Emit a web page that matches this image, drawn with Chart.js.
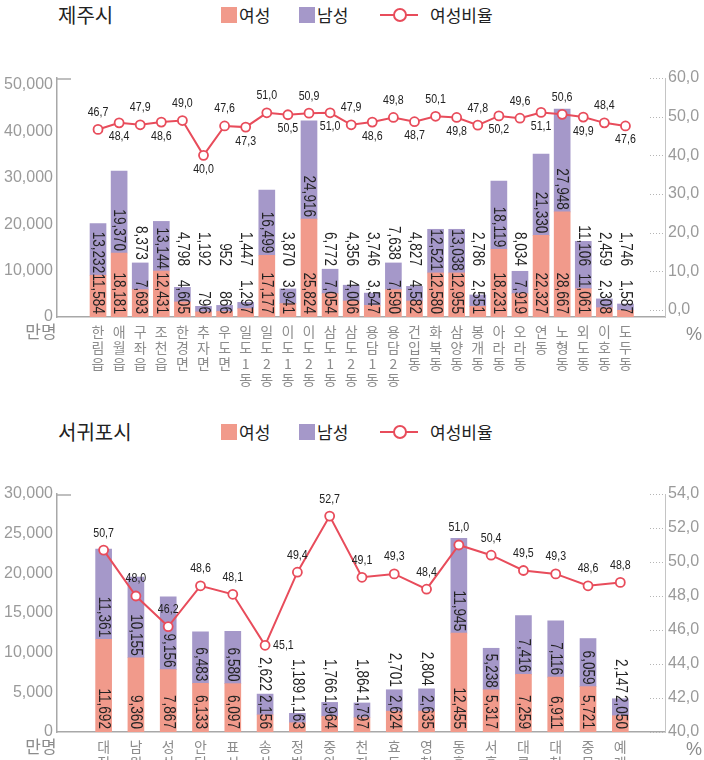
<!DOCTYPE html>
<html>
<head>
<meta charset="utf-8">
<script src="https://cdn.jsdelivr.net/npm/chart.js@4.4.1/dist/chart.umd.min.js"></script>
<style>
  html, body { margin: 0; padding: 0; background: #fff; width: 704px; height: 760px; overflow: hidden; }
  .head { position: absolute; left: 0; width: 704px; height: 28px; line-height: 28px;
          font-family: 'Noto Sans CJK KR', sans-serif; color: #222; }
  .head span { position: absolute; top: 0; }
  .title { left: 58px; font-size: 20px; }
  .key { font-size: 17px; }
  .sw { position: absolute; top: 6px; width: 16px; height: 16px; }
  .ln { position: absolute; top: 13px; width: 38px; height: 2px; background: #e84c5b; }
  .dot { position: absolute; top: 7px; width: 10px; height: 10px; border: 2px solid #e84c5b; border-radius: 50%; background: #fff; }
  canvas { position: absolute; left: 0; }
</style>
</head>
<body>
<div class="head" style="top:1px">
  <span class="title">제주시</span>
  <i class="sw" style="left:221px;background:#f19a8b"></i><span class="key" style="left:239px">여성</span>
  <i class="sw" style="left:299px;background:#a598c9"></i><span class="key" style="left:317px">남성</span>
  <i class="ln" style="left:380px"></i><i class="dot" style="left:393px"></i><span class="key" style="left:430px">여성비율</span>
</div>
<canvas id="jeju" width="704" height="360" style="top:40px"></canvas>

<div class="head" style="top:418px">
  <span class="title">서귀포시</span>
  <i class="sw" style="left:221px;background:#f19a8b"></i><span class="key" style="left:239px">여성</span>
  <i class="sw" style="left:299px;background:#a598c9"></i><span class="key" style="left:317px">남성</span>
  <i class="ln" style="left:380px"></i><i class="dot" style="left:393px"></i><span class="key" style="left:430px">여성비율</span>
</div>
<canvas id="seogwipo" width="704" height="300" style="top:460px"></canvas>

<script>
// 제주시
const jejuNames = ['한림읍', '애월읍', '구좌읍', '조천읍', '한경면', '추자면', '우도면', '일도1동', '일도2동',
  '이도1동', '이도2동', '삼도1동', '삼도2동', '용담1동', '용담2동', '건입동', '화북동', '삼양동', '봉개동',
  '아라동', '오라동', '연동', '노형동', '외도동', '이호동', '도두동'];
// printed numbers
const jejuFemale = [11584, 18181, 7693, 12431, 4605, 796, 866, 1297, 17177, 3941, 25824, 7054, 4006,
  3547, 7590, 4582, 12580, 12955, 2551, 18231, 7919, 22327, 28667, 11061, 2308, 1587];
const jejuMale = [13232, 19370, 8373, 13144, 4798, 1192, 952, 1447, 16499, 3870, 24916, 6772, 4356,
  3746, 7638, 4827, 12521, 13038, 2786, 18119, 8034, 21330, 27948, 11106, 2459, 1746];
const jejuRatio = [46.7, 48.4, 47.9, 48.6, 49.0, 40.0, 47.6, 47.3, 51.0, 50.5, 50.9, 51.0, 47.9,
  48.6, 49.8, 48.7, 50.1, 49.8, 47.8, 50.2, 49.6, 51.1, 50.6, 49.9, 48.4, 47.6];
// bar heights as they are drawn against the axis in the picture
const jejuFemaleBar = [9000, 13800, 5900, 9900, 3250, 1100, 1200, 1800, 13300, 2900, 21100, 5050, 3450,
  2500, 5900, 3450, 9500, 9500, 2300, 14600, 5050, 17600, 22650, 6100, 2000, 1450];
const jejuMaleBar = [11150, 17650, 5750, 10700, 3150, 1200, 1300, 1350, 14050, 3150, 21150, 5250, 3400,
  2650, 5750, 3150, 9400, 9400, 2450, 14700, 4800, 17500, 22150, 10200, 1900, 1350];

// 서귀포시
const seoNames = ['대정읍', '남원읍', '성산읍', '안덕면', '표선면', '송산동', '정방동', '중앙동', '천지동',
  '효돈동', '영천동', '동홍동', '서홍동', '대륜동', '대천동', '중문동', '예래동'];
const seoFemale = [11692, 9360, 7867, 6133, 6097, 2156, 1163, 1964, 1797, 2624, 2635, 12455, 5317,
  7259, 6911, 5721, 2050];
const seoMale = [11361, 10155, 9156, 6483, 6580, 2622, 1189, 1766, 1864, 2701, 2804, 11945, 5238,
  7416, 7116, 6059, 2147];
const seoRatio = [50.7, 48.0, 46.2, 48.6, 48.1, 45.1, 49.4, 52.7, 49.1, 49.3, 48.4, 51.0, 50.4,
  49.5, 49.3, 48.6, 48.8];

const SANS = "'Liberation Sans', Arial, sans-serif";
const KR = "'Noto Sans CJK KR', sans-serif";
const FEMALE = '#f19a8b', MALE = '#a598c9', LINE = '#e84c5b';

const num = v => v.toLocaleString('en-US');
const dec = v => v.toFixed(1).replace('.', ',');

// condensed text, rotated to read top to bottom, ending at yEnd
function vtext(ctx, s, x, yEnd) {
  ctx.save();
  ctx.translate(x, yEnd);
  ctx.rotate(Math.PI / 2);
  ctx.scale(0.8, 1);
  ctx.textAlign = 'right';
  ctx.fillText(s, 0, 0);
  ctx.restore();
}

function htext(ctx, s, x, y, align) {
  ctx.save();
  ctx.translate(x, y);
  ctx.scale(0.85, 1);
  ctx.textAlign = align;
  ctx.fillText(s, 0, 0);
  ctx.restore();
}

const decor = {
  id: 'decor',
  afterDatasetsDraw(chart, args, o) {
    const ctx = chart.ctx, a = chart.chartArea;
    const y = chart.scales.y, y1 = chart.scales.y1;
    ctx.save();

    // small mark on top of the left axis
    ctx.strokeStyle = '#aaa';
    ctx.lineWidth = 1.5;
    ctx.beginPath();
    ctx.moveTo(a.left, a.top + 1);
    ctx.lineTo(a.left + 14, a.top + 1);
    ctx.stroke();

    // dotted ticks on the right axis
    ctx.setLineDash([1, 2]);
    ctx.strokeStyle = '#b5b5b5';
    ctx.lineWidth = 1;
    y1.ticks.forEach(t => {
      const py = Math.round(y1.getPixelForValue(t.value)) + 0.5;
      ctx.beginPath();
      ctx.moveTo(a.right - 15, py);
      ctx.lineTo(a.right, py);
      ctx.stroke();
    });
    ctx.setLineDash([]);

    // numbers on the bars
    ctx.font = '17px ' + SANS;
    ctx.fillStyle = '#222';
    ctx.textBaseline = 'middle';
    const fem = chart.getDatasetMeta(0).data, mal = chart.getDatasetMeta(1).data;
    const outY = y.getPixelForValue(o.outsideBase);
    fem.forEach((bar, i) => {
      vtext(ctx, num(o.female[i]), bar.x, bar.base - 3);
      const m = mal[i], txt = num(o.male[i]);
      const w = ctx.measureText(txt).width * 0.8;
      let end;
      if (m.base - m.y >= w + 2 && bar.y < outY + 10) end = bar.y - 2;
      else if (m.y - 3 < outY && outY - m.y < 12) end = m.y - 3;
      else end = outY;
      vtext(ctx, txt, bar.x, end);
    });

    // ratio labels
    ctx.font = '12.5px ' + SANS;
    const pts = chart.getDatasetMeta(2).data;
    pts.forEach((p, i) => {
      const where = o.place(i, o.ratio);
      if (where === 'right') htext(ctx, dec(o.ratio[i]), p.x + 8, p.y, 'left');
      else htext(ctx, dec(o.ratio[i]), p.x, where === 'below' ? p.y + 14 : p.y - 17, 'center');
    });

    // units
    ctx.fillStyle = '#8c8c8c';
    ctx.textAlign = 'center';
    ctx.font = '17px ' + KR;
    ctx.fillText('만명', 41, a.bottom + 15);
    ctx.font = '18px ' + SANS;
    ctx.fillText('%', 694, a.bottom + 18);
    ctx.restore();
  }
};

function makeChart(id, c) {
  const pts = arr => arr.map((v, i) => ({ x: i, y: v }));
  const yTicks = [];
  for (let v = 0; v <= c.yTop; v += c.yStep) yTicks.push({ value: v });
  const y1Ticks = [];
  for (let v = c.y1Bottom; v <= c.y1Max + 1e-9; v += c.y1Step) y1Ticks.push({ value: v });

  return new Chart(document.getElementById(id), {
    type: 'bar',
    data: {
      datasets: [
        { label: '여성', data: pts(c.femaleBar), backgroundColor: FEMALE, barThickness: 16, yAxisID: 'y', order: 1 },
        { label: '남성', data: pts(c.maleBar), backgroundColor: MALE, barThickness: 16, yAxisID: 'y', order: 1 },
        {
          type: 'line', label: '여성비율', data: pts(c.ratio), yAxisID: 'y1', order: 0,
          borderColor: LINE, borderWidth: 2, pointRadius: 4.5, pointBorderWidth: 1.8,
          pointBackgroundColor: '#fff', pointBorderColor: LINE, clip: false
        }
      ]
    },
    options: {
      responsive: false,
      animation: false,
      layout: { padding: { top: c.padTop, left: 0, right: 0, bottom: 0 } },
      scales: {
        x: {
          type: 'linear', stacked: true, min: c.xMin, max: c.xMax,
          afterBuildTicks: s => { s.ticks = c.names.map((_, i) => ({ value: i })); },
          afterFit: s => { s.height = c.xHeight; },
          grid: { display: false, drawTicks: false },
          border: { color: '#a8a8a8', width: 1.5 },
          ticks: {
            autoSkip: false, maxRotation: 0, minRotation: 0, padding: 7,
            color: '#8c8c8c', font: { family: KR, size: 14, lineHeight: '16px' },
            callback: v => (c.names[v] ? Array.from(c.names[v]) : '')
          }
        },
        y: {
          stacked: true, position: 'left', min: 0, max: c.yMax,
          afterBuildTicks: s => { s.ticks = yTicks; },
          afterFit: s => { s.width = 57; },
          grid: { display: false, drawTicks: false },
          border: { color: '#a8a8a8', width: 1.5 },
          ticks: { padding: 4, color: '#9a9a9a', font: { family: SANS, size: 16 }, callback: v => num(v) }
        },
        y1: {
          position: 'right', min: c.y1Min, max: c.y1Max,
          afterBuildTicks: s => { s.ticks = y1Ticks; },
          afterFit: s => { s.width = 39; },
          grid: { display: false, drawTicks: false },
          border: { color: '#c4c4c4', width: 1, dash: [1, 2] },
          ticks: { padding: 3, color: '#9a9a9a', font: { family: SANS, size: 16 }, callback: v => dec(v) }
        }
      },
      plugins: {
        legend: { display: false },
        tooltip: { enabled: false },
        decor: {
          female: c.female, male: c.male, ratio: c.ratio,
          outsideBase: c.outsideBase, place: c.place
        }
      }
    },
    plugins: [decor]
  });
}

makeChart('jeju', {
  names: jejuNames, female: jejuFemale, male: jejuMale, ratio: jejuRatio,
  femaleBar: jejuFemaleBar, maleBar: jejuMaleBar,
  xMin: -1.39, xMax: 26.32, padTop: 38, xHeight: 83,
  yMax: 51500, yTop: 50000, yStep: 10000,
  y1Min: -1.8, y1Bottom: 0, y1Max: 60, y1Step: 10,
  outsideBase: 11000,
  place: i => (i % 2 ? 'below' : 'above')
});

makeChart('seogwipo', {
  names: seoNames, female: seoFemale, male: seoMale, ratio: seoRatio,
  femaleBar: seoFemale, maleBar: seoMale,
  xMin: -0.89, xMax: 16.83, padTop: 34, xHeight: 28,
  yMax: 30000, yTop: 30000, yStep: 5000,
  y1Min: 40, y1Bottom: 40, y1Max: 54, y1Step: 2,
  outsideBase: 4900,
  place: (i, r) => (r[i] === Math.min(...r) ? 'right' : 'above')
});
</script>
</body>
</html>
